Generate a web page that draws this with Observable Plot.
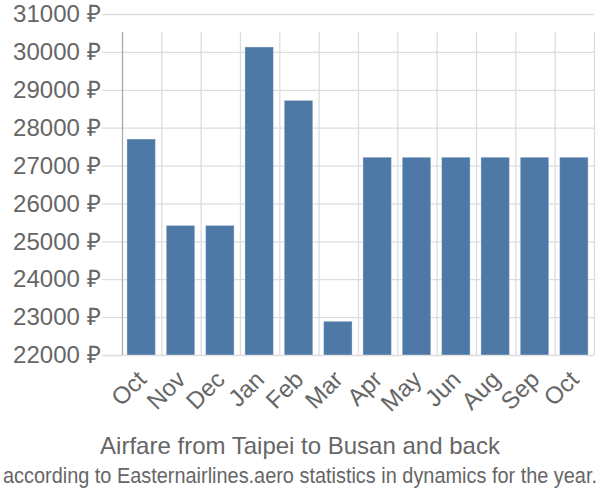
<!DOCTYPE html>
<html>
<head>
<meta charset="utf-8">
<script src="https://cdn.jsdelivr.net/npm/d3@7"></script>
<script src="https://cdn.jsdelivr.net/npm/@observablehq/plot@0.6"></script>
<style>
  html, body { margin: 0; padding: 0; background: #fff; }
  #wrap { width: 600px; height: 500px; position: relative; overflow: hidden; font-family: "Liberation Sans", Arial, sans-serif; }
  #title { position: absolute; left: 0; width: 600px; top: 432px; text-align: center; font-size: 24px; color: #666; white-space: nowrap; }
  #subtitle { position: absolute; left: 0; top: 460px; width: 600px; height: 32px; }
</style>
</head>
<body>
<div id="wrap">
  <div id="chart"></div>
  <div id="title">Airfare from Taipei to Busan and back</div>
  <svg id="subtitle" width="600" height="32" viewBox="0 0 600 32">
    <text x="300" y="23" text-anchor="middle" textLength="594" lengthAdjust="spacingAndGlyphs" font-family="'Liberation Sans', Arial, sans-serif" font-size="22" fill="#666">according to Easternairlines.aero statistics in dynamics for the year.</text>
  </svg>
</div>
<script>
const months = ["Oct", "Nov", "Dec", "Jan", "Feb", "Mar", "Apr", "May", "Jun", "Aug", "Sep", "Oct"];
const prices = [27700, 25420, 25420, 30130, 28720, 22890, 27220, 27220, 27220, 27220, 27220, 27220];
const yTicks = [22000, 23000, 24000, 25000, 26000, 27000, 28000, 29000, 30000, 31000];
const currency = "₽";

const data = months.map((m, i) => ({ i, month: m, price: prices[i] }));
const bounds = d3.range(0, months.length + 1);
const centers = months.map((m, i) => i + 0.5);

const chart = Plot.plot({
  width: 600,
  height: 425,
  marginTop: 14,
  marginBottom: 70,
  marginLeft: 122,
  marginRight: 6,
  style: { fontFamily: "'Liberation Sans', Arial, sans-serif", fontSize: "24px", color: "#666", background: "#fff" },
  x: { type: "linear", domain: [0, months.length], axis: null },
  y: { domain: [22000, 31000], axis: null },
  marks: [
    Plot.ruleY(yTicks, { x1: 0, x2: months.length, insetLeft: -20, stroke: "#ddd", strokeWidth: 1.3 }),
    Plot.ruleX(bounds, { y1: 22000, y2: 31000, insetBottom: -18, stroke: (d) => d === 0 ? "#aaa" : "#ddd", strokeWidth: 1.3 }),
    Plot.rectY(data, {
      x1: (d) => d.i + 0.125,
      x2: (d) => d.i + 0.85,
      y1: 22000,
      y2: "price",
      fill: "#4e79a7",
      stroke: "#fff",
      strokeOpacity: 0.35,
      strokeWidth: 1
    }),
    Plot.axisY(yTicks, {
      label: null,
      tickSize: 0,
      tickPadding: 22,
      tickFormat: (d) => d + " " + currency,
      fill: "#666",
      fontSize: 24
    }),
    Plot.axisX(centers, {
      label: null,
      tickSize: 0,
      tickPadding: 20,
      tickRotate: -45,
      tickFormat: (d) => months[Math.floor(d)],
      fill: "#666",
      fontSize: 24
    })
  ]
});
document.getElementById("chart").appendChild(chart);
</script>
</body>
</html>
